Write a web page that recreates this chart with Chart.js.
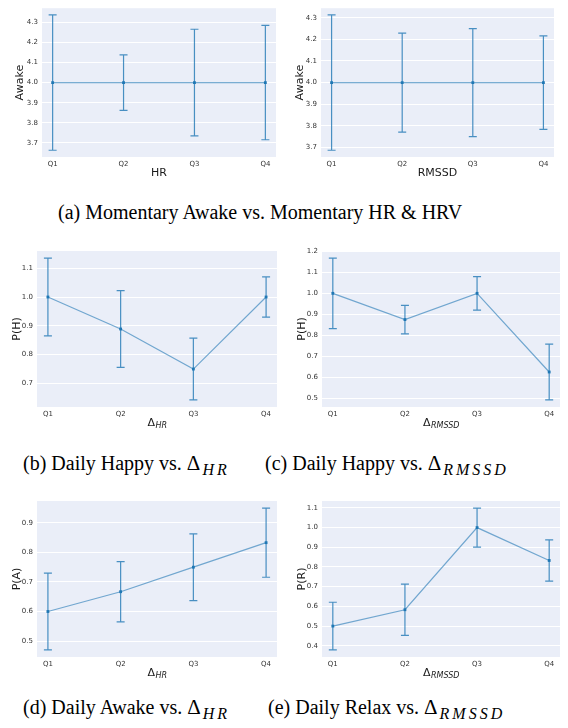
<!DOCTYPE html>
<html>
<head>
<meta charset="utf-8">
<script src="https://cdn.jsdelivr.net/npm/chart.js@4.4.1/dist/chart.umd.min.js"></script>
<style>
  body { margin: 0; background: #fff; width: 568px; height: 728px; position: relative; overflow: hidden; }
  canvas { position: absolute; }
  .cap { position: absolute; font-family: "Liberation Serif", "Times New Roman", serif; font-size: 20px; line-height: 24px; white-space: nowrap; color: #000; }
  .cap .d { font-size: 21px; }
  .cap i { font-size: 16px; position: relative; top: 5px; letter-spacing: 3px; margin-left: 2px; }
</style>
</head>
<body>
<canvas id="c1" width="284" height="185" style="left:0;top:0"></canvas>
<canvas id="c2" width="284" height="185" style="left:284px;top:0"></canvas>
<canvas id="c3" width="284" height="195" style="left:0;top:240px"></canvas>
<canvas id="c4" width="284" height="195" style="left:284px;top:240px"></canvas>
<canvas id="c5" width="284" height="195" style="left:0;top:485px"></canvas>
<canvas id="c6" width="284" height="195" style="left:284px;top:485px"></canvas>

<div class="cap" style="left:58px;top:200px">(a) Momentary Awake vs. Momentary HR &amp; HRV</div>
<div class="cap" style="left:23px;top:451px">(b) Daily Happy vs. <span class="d">Δ</span><i>HR</i></div>
<div class="cap" style="left:265px;top:451px">(c) Daily Happy vs. <span class="d">Δ</span><i>RMSSD</i></div>
<div class="cap" style="left:23px;top:695px">(d) Daily Awake vs. <span class="d">Δ</span><i>HR</i></div>
<div class="cap" style="left:268px;top:695px">(e) Daily Relax vs. <span class="d">Δ</span><i>RMSSD</i></div>

<script>
// Quartile categories
const quartiles = ["Q1", "Q2", "Q3", "Q4"];

// (a) left: Awake vs HR
const awakeHrMean = [4.0, 4.0, 4.0, 4.0];
const awakeHrErr = [0.336, 0.138, 0.265, 0.284];
const awakeHrTicks = [3.7, 3.8, 3.9, 4.0, 4.1, 4.2, 4.3];

// (a) right: Awake vs RMSSD
const awakeRmssdMean = [4.0, 4.0, 4.0, 4.0];
const awakeRmssdErr = [0.313, 0.229, 0.25, 0.216];
const awakeRmssdTicks = [3.7, 3.8, 3.9, 4.0, 4.1, 4.2, 4.3];

// (b) Daily Happy vs delta HR
const happyHrMean = [1.0, 0.889, 0.75, 1.0];
const happyHrErr = [0.135, 0.133, 0.107, 0.07];
const happyHrTicks = [0.7, 0.8, 0.9, 1.0, 1.1];

// (c) Daily Happy vs delta RMSSD
const happyRmssdMean = [1.0, 0.875, 1.0, 0.625];
const happyRmssdErr = [0.168, 0.068, 0.08, 0.133];
const happyRmssdTicks = [0.5, 0.6, 0.7, 0.8, 0.9, 1.0, 1.1, 1.2];

// (d) Daily Awake vs delta HR
const dAwakeHrMean = [0.6, 0.667, 0.75, 0.833];
const dAwakeHrErr = [0.13, 0.102, 0.113, 0.117];
const dAwakeHrTicks = [0.5, 0.6, 0.7, 0.8, 0.9];

// (e) Daily Relax vs delta RMSSD
const relaxRmssdMean = [0.5, 0.583, 1.0, 0.833];
const relaxRmssdErr = [0.121, 0.13, 0.099, 0.105];
const relaxRmssdTicks = [0.4, 0.5, 0.6, 0.7, 0.8, 0.9, 1.0, 1.1];

const BLUE = "#1f77b4";
const FONT = "'DejaVu Sans', sans-serif";

// plot background
const bgPlugin = {
  id: "bg",
  beforeDraw(chart) {
    const a = chart.chartArea;
    chart.ctx.save();
    chart.ctx.fillStyle = "#eaeef8";
    chart.ctx.fillRect(a.left, a.top, a.right - a.left, a.bottom - a.top);
    chart.ctx.restore();
  },
};

// error bars with caps
const errPlugin = {
  id: "errbars",
  beforeDatasetsDraw(chart, args, opts) {
    const ctx = chart.ctx;
    const xs = chart.scales.x, ys = chart.scales.y;
    ctx.save();
    ctx.strokeStyle = "rgba(31,119,180,0.8)";
    ctx.lineWidth = 1.2;
    opts.mean.forEach((m, i) => {
      const x = xs.getPixelForValue(i);
      const y1 = ys.getPixelForValue(m + opts.err[i]);
      const y2 = ys.getPixelForValue(m - opts.err[i]);
      ctx.beginPath();
      ctx.moveTo(x, y1);
      ctx.lineTo(x, y2);
      ctx.moveTo(x - 4, y1);
      ctx.lineTo(x + 4, y1);
      ctx.moveTo(x - 4, y2);
      ctx.lineTo(x + 4, y2);
      ctx.stroke();
    });
    ctx.restore();
  },
};

// axis titles (x title may carry an italic subscript)
const titlePlugin = {
  id: "titles",
  afterDraw(chart, args, opts) {
    const ctx = chart.ctx;
    const a = chart.chartArea;
    ctx.save();
    ctx.fillStyle = "#1a1a1a";
    ctx.textBaseline = "middle";
    ctx.textAlign = "left";
    const cx = (a.left + a.right) / 2;
    const ty = a.bottom + 16;
    ctx.font = "11px " + FONT;
    const w1 = ctx.measureText(opts.x).width;
    let w2 = 0;
    if (opts.sub) {
      ctx.font = "italic 8px " + FONT;
      w2 = ctx.measureText(opts.sub).width;
    }
    const sx = cx - (w1 + w2) / 2;
    ctx.font = "11px " + FONT;
    ctx.fillText(opts.x, sx, ty);
    if (opts.sub) {
      ctx.font = "italic 8px " + FONT;
      ctx.fillText(opts.sub, sx + w1 + 0.5, ty + 3);
    }
    // y title
    ctx.translate(a.left - opts.yGap, (a.top + a.bottom) / 2);
    ctx.rotate(-Math.PI / 2);
    ctx.textAlign = "center";
    ctx.font = "11px " + FONT;
    ctx.fillText(opts.y, 0, 0);
    ctx.restore();
  },
};

function makeChart(id, mean, err, yTicks, xTitle, xSub, yTitle, area, yGap) {
  const canvas = document.getElementById(id);
  const lo = Math.min(...mean.map((m, i) => m - err[i]));
  const hi = Math.max(...mean.map((m, i) => m + err[i]));
  const pad = (hi - lo) * 0.05;

  return new Chart(canvas, {
    type: "line",
    data: {
      datasets: [
        {
          data: mean.map((v, i) => ({ x: i, y: v })),
          borderColor: "rgba(31,119,180,0.6)",
          borderWidth: 1.2,
          pointStyle: "rect",
          pointRadius: 2,
          pointBorderWidth: 0,
          pointBackgroundColor: BLUE,
          tension: 0,
        },
      ],
    },
    options: {
      responsive: false,
      animation: false,
      layout: {
        padding: { left: 0, top: area.top, right: canvas.width - area.right, bottom: 0 },
      },
      plugins: {
        legend: { display: false },
        tooltip: { enabled: false },
        errbars: { mean: mean, err: err },
        titles: { x: xTitle, sub: xSub, y: yTitle, yGap: yGap },
      },
      scales: {
        x: {
          type: "linear",
          min: -0.15,
          max: 3.15,
          afterBuildTicks: (s) => { s.ticks = quartiles.map((q, i) => ({ value: i })); },
          afterFit: (s) => { s.height = canvas.height - area.bottom; },
          grid: { display: false, drawTicks: false },
          border: { display: false },
          ticks: {
            color: "#333",
            padding: 3,
            font: { family: FONT, size: 7 },
            callback: (v, i) => quartiles[i],
          },
        },
        y: {
          min: lo - pad,
          max: hi + pad,
          afterBuildTicks: (s) => { s.ticks = yTicks.map((v) => ({ value: v })); },
          afterFit: (s) => { s.width = area.left; },
          grid: { color: "#ffffff", lineWidth: 1, drawTicks: false },
          border: { display: false },
          ticks: {
            color: "#333",
            padding: 4,
            font: { family: FONT, size: 7 },
            callback: (v) => v.toFixed(1),
          },
        },
      },
    },
    plugins: [bgPlugin, errPlugin, titlePlugin],
  });
}

makeChart("c1", awakeHrMean, awakeHrErr, awakeHrTicks, "HR", "", "Awake",
  { left: 42, right: 276, top: 4, bottom: 157 }, 22);
makeChart("c2", awakeRmssdMean, awakeRmssdErr, awakeRmssdTicks, "RMSSD", "", "Awake",
  { left: 37, right: 270, top: 4, bottom: 157 }, 21);
makeChart("c3", happyHrMean, happyHrErr, happyHrTicks, "Δ", "HR", "P(H)",
  { left: 37, right: 277, top: 11, bottom: 167 }, 20);
makeChart("c4", happyRmssdMean, happyRmssdErr, happyRmssdTicks, "Δ", "RMSSD", "P(H)",
  { left: 38, right: 276, top: 11, bottom: 167 }, 20);
makeChart("c5", dAwakeHrMean, dAwakeHrErr, dAwakeHrTicks, "Δ", "HR", "P(A)",
  { left: 37, right: 277, top: 16, bottom: 172 }, 20);
makeChart("c6", relaxRmssdMean, relaxRmssdErr, relaxRmssdTicks, "Δ", "RMSSD", "P(R)",
  { left: 38, right: 276, top: 16, bottom: 172 }, 20);
</script>
</body>
</html>
